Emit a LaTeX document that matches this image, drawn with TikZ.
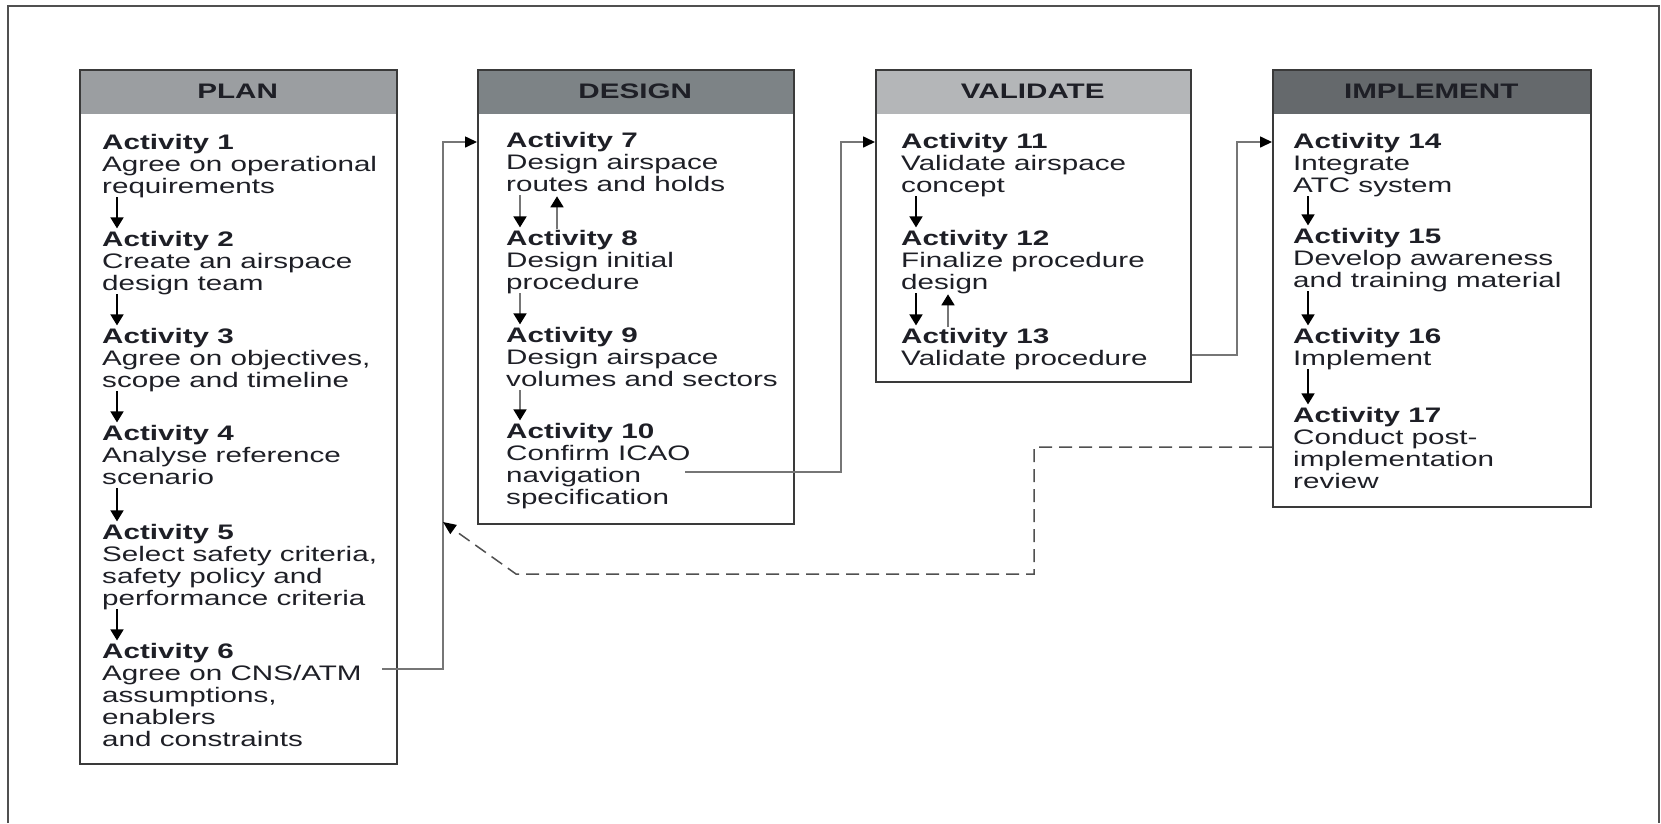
\documentclass[tikz,border=0pt]{standalone}
\usepackage{fontspec}
\setmainfont{Liberation Sans}[FakeStretch=1.41]
\usetikzlibrary{arrows.meta}
\definecolor{txt}{HTML}{1E1F26}
\definecolor{framecol}{HTML}{505050}
\definecolor{boxline}{HTML}{3A3A3A}
\definecolor{conncol}{HTML}{767676}
\definecolor{plancol}{HTML}{9B9EA1}
\definecolor{designcol}{HTML}{7D8386}
\definecolor{validcol}{HTML}{B4B6B8}
\definecolor{implcol}{HTML}{65696C}
\newcommand\actx[2]{\begin{tabular}[t]{@{}l@{}}\textbf{#1}\\#2\end{tabular}}
\begin{document}
\begin{tikzpicture}[x=1pt,y=-1pt,
  frameline/.style={draw=framecol,line width=2pt},
  hdrbox/.style={anchor=north west,inner sep=0,text=txt,font=\bfseries\fontsize{21}{22}\selectfont,minimum height=45pt},
  boxst/.style={draw=boxline,line width=1.6pt,anchor=north west,inner sep=0},
  actnode/.style={anchor=base west,inner sep=0,text=txt,font=\fontsize{21}{22}\selectfont},
  va/.style={draw=black,line width=1.7pt,-{Triangle[length=11pt,width=13pt,color=black]}},
  vag/.style={va,draw=conncol},
  conn/.style={draw=conncol,line width=1.6pt,-{Triangle[length=12pt,width=11pt,color=black]}},
  dconn/.style={draw=framecol,line width=1.5pt,dash pattern=on 13pt off 7pt,-{Triangle[length=13pt,width=11pt,color=black]}}
]
\useasboundingbox (0,0) rectangle (1661,823);
% outer frame
\draw[frameline] (8,823) -- (8,6) -- (1659,6) -- (1659,823);

% headers
\node[hdrbox,fill=plancol,minimum width=317pt] (planh) at (79,69) {PLAN};
\node[hdrbox,fill=designcol,minimum width=316pt] (designh) at (477,69) {DESIGN};
\node[hdrbox,fill=validcol,minimum width=315pt] (validh) at (875,69) {VALIDATE};
\node[hdrbox,fill=implcol,minimum width=318pt] (implh) at (1272,69) {IMPLEMENT};

% boxes
\node[boxst,minimum width=317pt,minimum height=694pt] (plan) at (79,69) {};
\node[boxst,minimum width=316pt,minimum height=454pt] (design) at (477,69) {};
\node[boxst,minimum width=315pt,minimum height=312pt] (validate) at (875,69) {};
\node[boxst,minimum width=318pt,minimum height=437pt] (implement) at (1272,69) {};

% PLAN activities
\node[actnode] (a1) at (102,149) {\actx{Activity 1}{Agree on operational\\requirements}};
\node[actnode] (a2) at (102,246) {\actx{Activity 2}{Create an airspace\\design team}};
\node[actnode] (a3) at (102,343) {\actx{Activity 3}{Agree on objectives,\\scope and timeline}};
\node[actnode] (a4) at (102,440) {\actx{Activity 4}{Analyse reference\\scenario}};
\node[actnode] (a5) at (102,539) {\actx{Activity 5}{Select safety criteria,\\safety policy and\\performance criteria}};
\node[actnode] (a6) at (102,658) {\actx{Activity 6}{Agree on CNS/ATM\\assumptions,\\enablers\\and constraints}};

% DESIGN activities
\node[actnode] (a7) at (506,147) {\actx{Activity 7}{Design airspace\\routes and holds}};
\node[actnode] (a8) at (506,245) {\actx{Activity 8}{Design initial\\procedure}};
\node[actnode] (a9) at (506,342) {\actx{Activity 9}{Design airspace\\volumes and sectors}};
\node[actnode] (a10) at (506,438) {\actx{Activity 10}{Confirm ICAO\\navigation\\specification}};

% VALIDATE activities
\node[actnode] (a11) at (901,148) {\actx{Activity 11}{Validate airspace\\concept}};
\node[actnode] (a12) at (901,245) {\actx{Activity 12}{Finalize procedure\\design}};
\node[actnode] (a13) at (901,343) {\actx{Activity 13}{Validate procedure}};

% IMPLEMENT activities
\node[actnode] (a14) at (1293,148) {\actx{Activity 14}{Integrate\\ATC system}};
\node[actnode] (a15) at (1293,243) {\actx{Activity 15}{Develop awareness\\and training material}};
\node[actnode] (a16) at (1293,343) {\actx{Activity 16}{Implement}};
\node[actnode] (a17) at (1293,422) {\actx{Activity 17}{Conduct post-\\implementation\\review}};

% vertical arrows
\foreach \p/\q in {a1/a2,a2/a3,a3/a4,a4/a5,a5/a6,a11/a12,a12/a13,a14/a15,a15/a16,a16/a17}
  \draw[va] ([xshift=15pt,yshift=2.5pt]\p.south west) -- ([xshift=15pt,yshift=2pt]\q.north west);
\foreach \p/\q in {a7/a8,a8/a9,a9/a10}
  \draw[vag] ([xshift=14pt,yshift=2.5pt]\p.south west) -- ([xshift=14pt,yshift=2pt]\q.north west);
\draw[vag] ([xshift=51pt]a8.north west) -- ([xshift=51pt,yshift=1.5pt]a7.south west);
\draw[vag] ([xshift=47pt]a13.north west) -- ([xshift=47pt,yshift=1.5pt]a12.south west);

% connectors between columns
\coordinate (c1s) at (382,669);
\coordinate (c1k) at (443,142);
\draw[conn] (c1s) -| (c1k) -- (c1k -| design.west);
\coordinate (c2s) at (685,472);
\coordinate (c2k) at (841,142);
\draw[conn] (c2s) -| (c2k) -- (c2k -| validate.west);
\coordinate (c3y) at (0,355);
\coordinate (c3k) at (1237,142);
\draw[conn] (validate.east |- c3y) -| (c3k) -- (c3k -| implement.west);

% dashed feedback
\coordinate (dy) at (0,447);
\coordinate (dk1) at (1034,447);
\coordinate (dk2) at (516,574);
\coordinate (dend) at (443,522);
\draw[dconn] (implement.west |- dy) -- (dk1) |- (dk2) -- (dend);
\end{tikzpicture}
\end{document}
